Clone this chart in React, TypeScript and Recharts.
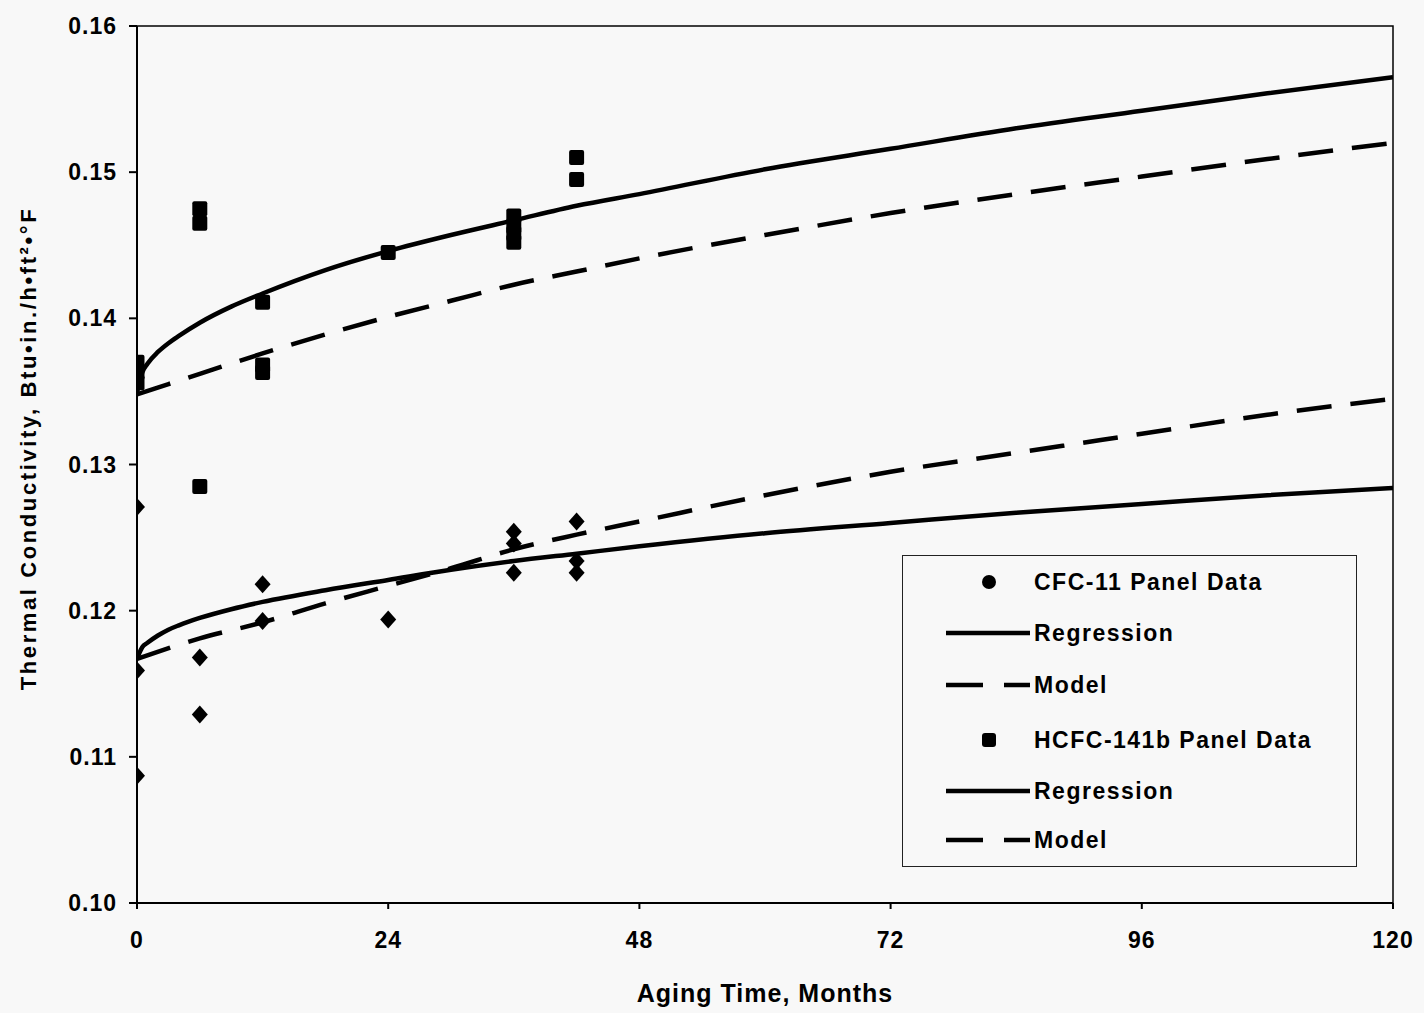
import React from "react"
import {
  ComposedChart,
  Line,
  Scatter,
  XAxis,
  YAxis,
  ReferenceArea,
} from "recharts"

// aging time (months) and measured k values
const cfcPanel = [
  { t: 0, k: 0.1271 },
  { t: 0, k: 0.1159 },
  { t: 0, k: 0.1087 },
  { t: 6, k: 0.1168 },
  { t: 6, k: 0.1129 },
  { t: 12, k: 0.1218 },
  { t: 12, k: 0.1193 },
  { t: 24, k: 0.1194 },
  { t: 36, k: 0.1254 },
  { t: 36, k: 0.1246 },
  { t: 36, k: 0.1226 },
  { t: 42, k: 0.1261 },
  { t: 42, k: 0.1234 },
  { t: 42, k: 0.1226 },
]

const hcfcPanel = [
  { t: 0, k: 0.137 },
  { t: 0, k: 0.1363 },
  { t: 0, k: 0.1356 },
  { t: 6, k: 0.1475 },
  { t: 6, k: 0.1465 },
  { t: 6, k: 0.1285 },
  { t: 12, k: 0.1411 },
  { t: 12, k: 0.1368 },
  { t: 12, k: 0.1363 },
  { t: 24, k: 0.1445 },
  { t: 36, k: 0.147 },
  { t: 36, k: 0.1463 },
  { t: 36, k: 0.1458 },
  { t: 36, k: 0.1452 },
  { t: 42, k: 0.151 },
  { t: 42, k: 0.1495 },
]

const fitMonths = [0, 0.5, 1, 2, 3, 4, 6, 9, 12, 18, 24, 30, 36, 42, 48, 60, 72, 84, 96, 108, 120]
const cfcRegression = [
  0.1167, 0.1175, 0.1178, 0.1183, 0.1187, 0.119, 0.1195, 0.1201, 0.1206, 0.1214, 0.1221,
  0.1228, 0.1234, 0.1239, 0.1244, 0.1253, 0.126, 0.1267, 0.1273, 0.1279, 0.1284,
]
const hcfcRegression = [
  0.1349, 0.1363, 0.1369, 0.1377, 0.1383, 0.1388, 0.1397, 0.1408, 0.1417, 0.1433, 0.1446,
  0.1457, 0.1467, 0.1477, 0.1485, 0.1502, 0.1516, 0.153, 0.1542, 0.1554, 0.1565,
]

const modelMonths = [0, 6, 12, 18, 24, 30, 36, 42, 48, 60, 72, 84, 96, 108, 120]
const cfcModel = [
  0.1167, 0.1181, 0.1192, 0.1205, 0.1217, 0.1229, 0.1242, 0.1252, 0.1261, 0.1279, 0.1295,
  0.1308, 0.1321, 0.1334, 0.1345,
]
const hcfcModel = [
  0.1348, 0.1362, 0.1376, 0.1389, 0.1401, 0.1412, 0.1423, 0.1432, 0.1441, 0.1457, 0.1472,
  0.1485, 0.1497, 0.1509, 0.152,
]

const xTicks = [0, 24, 48, 72, 96, 120]
const yTicks = [0.1, 0.11, 0.12, 0.13, 0.14, 0.15, 0.16]

const toRows = (ts: number[], ks: number[]) => ts.map((t, i) => ({ t, k: ks[i] }))

const Diamond = (props: any) => {
  const { cx, cy } = props
  return <polygon points={`${cx},${cy - 9} ${cx + 8},${cy} ${cx},${cy + 9} ${cx - 8},${cy}`} fill="#000" />
}

const Square = (props: any) => {
  const { cx, cy } = props
  return <rect x={cx - 7.5} y={cy - 7.5} width={15} height={15} rx={2} fill="#000" />
}

const font = "Liberation Sans, Arial"
const tickStyle = { fontFamily: font, fontSize: 23, fontWeight: 700, fill: "#000", letterSpacing: 1 }
const legendFont = { fontFamily: font, fontSize: 23, fontWeight: 700, letterSpacing: 1.5, color: "#000" }

const legendRows = [
  { label: "CFC-11 Panel Data", kind: "dot", top: 26 },
  { label: "Regression", kind: "solid", top: 77 },
  { label: "Model", kind: "dash", top: 129 },
  { label: "HCFC-141b Panel Data", kind: "square", top: 184 },
  { label: "Regression", kind: "solid", top: 235 },
  { label: "Model", kind: "dash", top: 284 },
]

function ChartLegend() {
  return (
    <div
      style={{
        position: "absolute",
        left: 902,
        top: 555,
        width: 455,
        height: 312,
        border: "1px solid #222",
        boxSizing: "border-box",
      }}
    >
      {legendRows.map((r, i) => (
        <div key={i} style={{ position: "absolute", left: 0, top: r.top - 15, height: 30, width: 450 }}>
          <svg width={130} height={30} style={{ position: "absolute", left: 0, top: 0 }}>
            {r.kind === "dot" && <circle cx={86} cy={15} r={7} fill="#000" />}
            {r.kind === "square" && <rect x={79} y={8} width={14} height={14} rx={3} fill="#000" />}
            {r.kind === "solid" && <line x1={43} y1={15} x2={127} y2={15} stroke="#000" strokeWidth={4.5} />}
            {r.kind === "dash" && (
              <line x1={43} y1={15} x2={127} y2={15} stroke="#000" strokeWidth={4.5} strokeDasharray="37 21" />
            )}
          </svg>
          <span style={{ ...legendFont, position: "absolute", left: 131, top: 0, lineHeight: "30px", whiteSpace: "nowrap" }}>
            {r.label}
          </span>
        </div>
      ))}
    </div>
  )
}

export default function App() {
  return (
    <div style={{ position: "absolute", left: 0, top: 0, width: 1424, height: 1013, background: "#f8f8f8" }}>
      <ComposedChart width={1424} height={1013} margin={{ top: 26, right: 31, bottom: 0, left: 0 }}>
        <XAxis
          dataKey="t"
          type="number"
          domain={[0, 120]}
          ticks={xTicks}
          allowDataOverflow
          stroke="#000"
          strokeWidth={2}
          tickSize={6}
          tickMargin={23}
          height={110}
          tick={tickStyle}
          label={{
            value: "Aging Time, Months",
            position: "insideBottom",
            offset: 11,
            style: { fontFamily: font, fontSize: 25, fontWeight: 700, fill: "#000", letterSpacing: 1 },
          }}
        />
        <YAxis
          dataKey="k"
          type="number"
          domain={[0.1, 0.16]}
          ticks={yTicks}
          allowDataOverflow
          tickFormatter={(v: number) => v.toFixed(2)}
          stroke="#000"
          strokeWidth={2}
          tickSize={8}
          tickMargin={12}
          width={137}
          tick={tickStyle}
          label={(props: any) => {
            const vb = props.viewBox || {}
            const cy = (vb.y ?? 26) + (vb.height ?? 877) / 2 - 16
            return (
              <text
                x={28}
                y={cy}
                transform={`rotate(-90, 28, ${cy})`}
                textAnchor="middle"
                dominantBaseline="central"
                style={{ fontFamily: font, fontSize: 22, fontWeight: 700, fill: "#000", letterSpacing: 2.6 }}
              >
                Thermal Conductivity, Btu•in./h•ft²•°F
              </text>
            )
          }}
        />
        <ReferenceArea x1={0} x2={120} y1={0.1} y2={0.16} fill="none" stroke="#000" strokeWidth={1.5} />
        <Line
          data={toRows(fitMonths, hcfcRegression)}
          dataKey="k"
          type="monotone"
          stroke="#000"
          strokeWidth={4.5}
          dot={false}
          isAnimationActive={false}
        />
        <Line
          data={toRows(modelMonths, hcfcModel)}
          dataKey="k"
          type="monotone"
          stroke="#000"
          strokeWidth={4.5}
          strokeDasharray="35 19"
          dot={false}
          isAnimationActive={false}
        />
        <Line
          data={toRows(fitMonths, cfcRegression)}
          dataKey="k"
          type="monotone"
          stroke="#000"
          strokeWidth={4.5}
          dot={false}
          isAnimationActive={false}
        />
        <Line
          data={toRows(modelMonths, cfcModel)}
          dataKey="k"
          type="monotone"
          stroke="#000"
          strokeWidth={4.5}
          strokeDasharray="35 19"
          dot={false}
          isAnimationActive={false}
        />
        <Scatter data={cfcPanel} dataKey="k" shape={<Diamond />} isAnimationActive={false} />
        <Scatter data={hcfcPanel} dataKey="k" shape={<Square />} isAnimationActive={false} />
      </ComposedChart>
      <ChartLegend />
    </div>
  )
}
